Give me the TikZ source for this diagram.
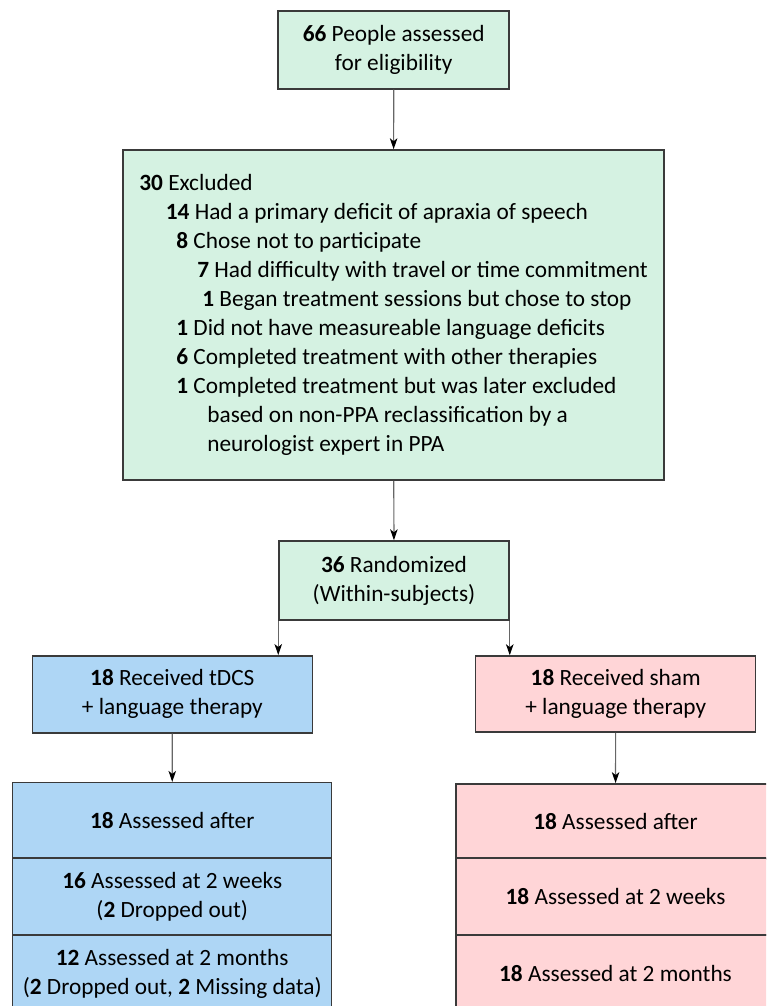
\documentclass[tikz,border=0pt]{standalone}
\usepackage{fontspec}
\setmainfont{Carlito}
\usetikzlibrary{arrows.meta}
\definecolor{flowgreen}{HTML}{D5F2E2}
\definecolor{flowblue}{HTML}{AED6F5}
\definecolor{flowpink}{HTML}{FFD5D7}
\definecolor{flowline}{HTML}{3A3A3A}
\begin{document}
\begin{tikzpicture}[x=1pt, y=-1pt,
    box/.style={draw=flowline, line width=1.5pt, align=center, inner sep=0pt,
        font=\fontsize{23.3}{29}\selectfont},
    arr/.style={draw=black!60, line width=1.2pt,
        -{Stealth[black, length=11pt, width=7.5pt, inset=3pt]}}]
    \useasboundingbox (0,0) rectangle (766,1006);
    \clip (0,0) rectangle (766,1006);
    \node[box, fill=flowgreen, minimum width=231pt, minimum height=78pt] (screen)
        at (393.7,50) {\textbf{66} People assessed\\for eligibility};
    \node[box, fill=flowgreen, minimum width=541pt, minimum height=330pt, align=left] (excl)
        at (393.5,315) {\textbf{30} Excluded\\
        \hspace*{26.5pt}\textbf{14} Had a primary deficit of apraxia of speech\\
        \hspace*{37pt}\textbf{8} Chose not to participate\\
        \hspace*{58pt}\textbf{7} Had difficulty with travel or time commitment\\
        \hspace*{63pt}\textbf{1} Began treatment sessions but chose to stop\\
        \hspace*{37pt}\textbf{1} Did not have measureable language deficits\\
        \hspace*{37pt}\textbf{6} Completed treatment with other therapies\\
        \hspace*{37pt}\textbf{1} Completed treatment but was later excluded\\
        \hspace*{68pt}based on non-PPA reclassification by a\\
        \hspace*{68pt}neurologist expert in PPA};
    \node[box, fill=flowgreen, minimum width=230pt, minimum height=79pt] (rand)
        at (394,580.5) {\textbf{36} Randomized\\(Within-subjects)};
    \node[box, fill=flowblue, minimum width=280pt, minimum height=77pt] (tdcs)
        at (172.3,694.3) {\textbf{18} Received tDCS\\+ language therapy};
    \node[box, fill=flowpink, minimum width=280pt, minimum height=76pt] (sham)
        at (615.7,694) {\textbf{18} Received sham\\+ language therapy};
    \node[box, fill=flowblue, minimum width=319pt, minimum height=75.3pt] (tafter)
        at (172.2,820.3) {\textbf{18} Assessed after};
    \node[box, fill=flowblue, minimum width=319pt, minimum height=77pt] (tweeks)
        at (172.2,896.5) {\textbf{16} Assessed at 2 weeks\\(\textbf{2} Dropped out)};
    \node[box, fill=flowblue, minimum width=319pt, minimum height=77pt] (tmonths)
        at (172.2,973.5) {\textbf{12} Assessed at 2 months\\(\textbf{2} Dropped out, \textbf{2} Missing data)};
    \node[box, fill=flowpink, minimum width=319pt, minimum height=75.3pt] (safter)
        at (615.5,821.5) {\textbf{18} Assessed after};
    \node[box, fill=flowpink, minimum width=319pt, minimum height=77pt] (sweeks)
        at (615.5,896.5) {\textbf{18} Assessed at 2 weeks};
    \node[box, fill=flowpink, minimum width=319pt, minimum height=77pt] (smonths)
        at (615.5,973.5) {\textbf{18} Assessed at 2 months};
    \draw[arr] (screen) -- (excl);
    \draw[arr] (excl) -- (rand);
    \draw[arr] (rand.south west) -- (rand.south west |- tdcs.north);
    \draw[arr] (rand.south east) -- (rand.south east |- sham.north);
    \draw[arr] (tdcs) -- (tafter);
    \draw[arr] (sham) -- (safter);
\end{tikzpicture}
\end{document}
